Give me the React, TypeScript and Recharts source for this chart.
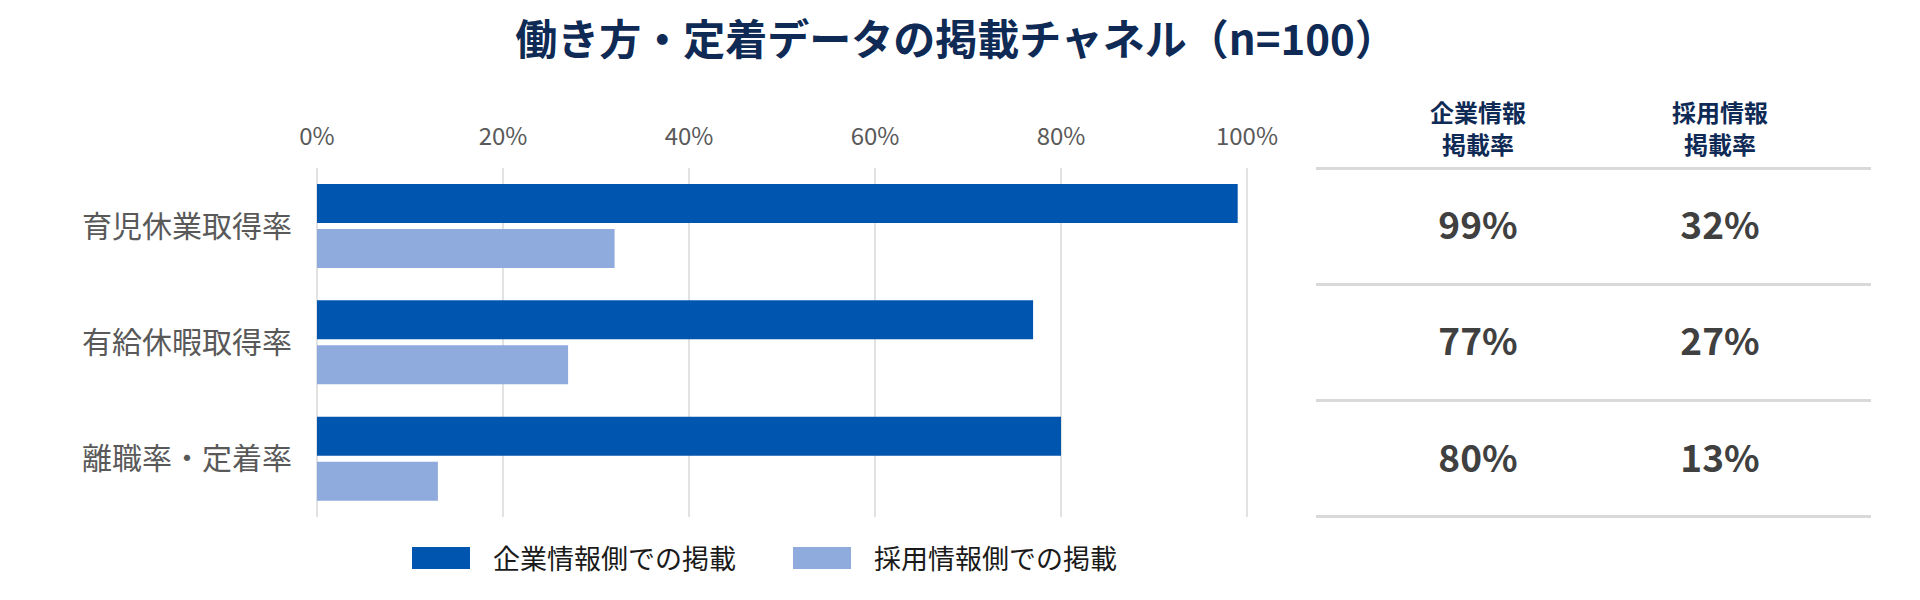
import { BarChart, Bar, XAxis, YAxis, CartesianGrid } from 'recharts';

// 掲載チャネル（n=100）
const categories = ['育児休業取得率', '有給休暇取得率', '離職率・定着率'];
const corporateRates = [99, 77, 80];
const recruitRates = [32, 27, 13];
const seriesNames = ['企業情報側での掲載', '採用情報側での掲載'];
const seriesColors = ['#0055AE', '#8FAADC'];
const tableHeaders = [
  ['企業情報', '掲載率'],
  ['採用情報', '掲載率'],
];
const xTicks = [0, 20, 40, 60, 80, 100];

const data = categories.map((name, i) => ({
  name,
  corporate: corporateRates[i],
  recruit: recruitRates[i],
}));

const font = '"Noto Sans CJK JP", "Noto Sans", sans-serif';
const navy = '#0E2A55';

const tableLeft = 1316;
const tableWidth = 555;
const tableTop = 168;
const rowHeight = 116.3;
const colCenters = [1478, 1720];

export default function App() {
  const columns = [corporateRates, recruitRates];
  return (
    <div style={{ position: 'absolute', left: 0, top: 0, width: 1920, height: 600, background: '#fff', fontFamily: font }}>
      <div
        style={{
          position: 'absolute',
          left: 0,
          width: 1912,
          top: 9,
          textAlign: 'center',
          fontSize: 42,
          fontWeight: 700,
          color: navy,
          lineHeight: '56px',
        }}
      >
        働き方・定着データの掲載チャネル（n=100）
      </div>

      <div style={{ position: 'absolute', left: 0, top: 0 }}>
        <BarChart
          width={1280}
          height={600}
          data={data}
          layout="vertical"
          margin={{ top: 138, right: 33, bottom: 83, left: 0 }}
          barGap={6}
        >
          <CartesianGrid horizontal={false} stroke="#D9D9D9" strokeWidth={1.5} />
          <XAxis
            type="number"
            orientation="top"
            domain={[0, 100]}
            ticks={xTicks}
            height={30}
            axisLine={false}
            tickLine={false}
            tickSize={0}
            tickMargin={23}
            tickFormatter={(v) => `${v}%`}
            tick={{ fill: '#595959', fontSize: 24, fontFamily: font }}
          />
          <YAxis
            type="category"
            dataKey="name"
            width={317}
            axisLine={false}
            tickLine={false}
            tickSize={0}
            tickMargin={25}
            tick={{ fill: '#595959', fontSize: 30, fontFamily: font }}
          />
          <Bar dataKey="corporate" name={seriesNames[0]} fill={seriesColors[0]} barSize={39} isAnimationActive={false} />
          <Bar dataKey="recruit" name={seriesNames[1]} fill={seriesColors[1]} barSize={39} isAnimationActive={false} />
        </BarChart>
      </div>

      {/* legend */}
      <div style={{ position: 'absolute', left: 412, top: 540, display: 'flex', alignItems: 'center', height: 36 }}>
        {seriesNames.map((n, i) => (
          <div key={n} style={{ display: 'flex', alignItems: 'center', marginRight: i === 0 ? 57 : 0 }}>
            <div style={{ width: 58, height: 22, background: seriesColors[i], marginRight: 23 }} />
            <span style={{ fontSize: 27, color: '#1A1A1A', lineHeight: '36px' }}>{n}</span>
          </div>
        ))}
      </div>

      {/* table */}
      {tableHeaders.map((lines, c) => (
        <div
          key={c}
          style={{
            position: 'absolute',
            left: colCenters[c] - 100,
            width: 200,
            top: 96,
            textAlign: 'center',
            fontSize: 24,
            fontWeight: 700,
            color: navy,
            lineHeight: '32px',
          }}
        >
          {lines.map((l) => (
            <div key={l}>{l}</div>
          ))}
        </div>
      ))}
      {[0, 1, 2, 3].map((r) => (
        <div
          key={r}
          style={{
            position: 'absolute',
            left: tableLeft,
            width: tableWidth,
            top: tableTop + r * rowHeight - 1.5,
            height: 3,
            background: '#D9D9D9',
          }}
        />
      ))}
      {columns.map((vals, c) =>
        vals.map((v, r) => (
          <div
            key={`${c}-${r}`}
            style={{
              position: 'absolute',
              left: colCenters[c] - 100,
              width: 200,
              top: tableTop + r * rowHeight - 3,
              height: rowHeight,
              display: 'flex',
              alignItems: 'center',
              justifyContent: 'center',
              fontSize: 37,
              fontWeight: 700,
              color: '#404040',
            }}
          >
            {v}%
          </div>
        ))
      )}
    </div>
  );
}
